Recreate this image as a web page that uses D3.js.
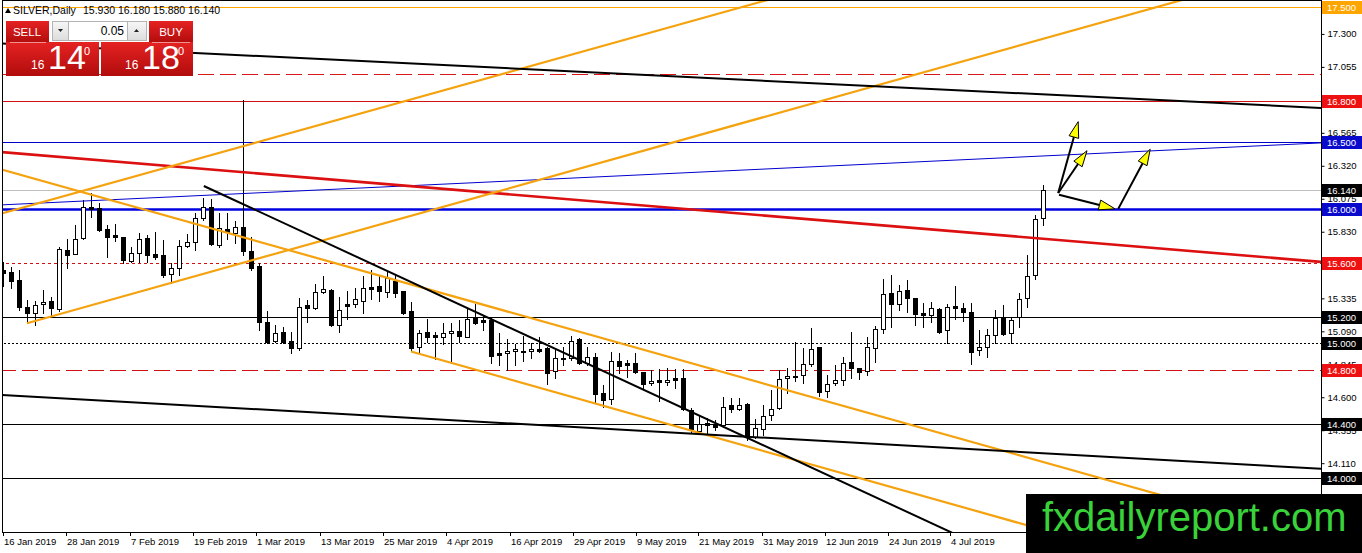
<!DOCTYPE html>
<html>
<head>
<meta charset="utf-8">
<script src="https://cdn.jsdelivr.net/npm/d3@7"></script>
<style>
  body { margin: 0; background: #fff; }
  svg { display: block; }
  text { font-family: "Liberation Sans", Arial, sans-serif; }
</style>
</head>
<body>
<div id="chart"></div>
<script>
// Daily OHLC, one entry per bar starting 16 Jan 2019
var opens = [15.546,15.531,15.472,15.271,15.227,15.294,15.316,15.256,15.695,15.665,
  15.784,16.014,16.007,15.851,15.806,15.791,15.613,15.672,15.784,15.665,
  15.658,15.516,15.561,15.724,15.754,15.932,16.014,15.732,15.851,15.821,
  15.866,15.687,15.576,15.160,15.019,15.085,15.019,14.967,15.286,15.264,
  15.383,15.398,15.138,15.294,15.294,15.316,15.420,15.427,15.383,15.464,
  15.390,15.242,14.974,15.085,15.063,15.048,15.078,15.093,15.048,15.197,
  15.175,15.175,14.930,14.930,14.944,14.944,14.944,14.959,14.967,14.796,
  14.892,14.892,15.033,14.855,14.900,14.632,14.588,14.870,14.855,14.855,
  14.788,14.707,14.729,14.714,14.744,14.744,14.506,14.350,14.410,14.395,
  14.395,14.543,14.514,14.551,14.305,14.365,14.469,14.521,14.744,14.759,
  14.766,14.848,14.974,14.647,14.707,14.729,14.863,14.818,14.796,14.967,
  15.108,15.375,15.294,15.398,15.338,15.227,15.212,15.256,15.100,15.279,
  15.264,15.234,14.952,14.974,15.063,15.197,15.078,15.197,15.338,15.509,
  15.930];
var highs = [15.605,15.568,15.546,15.323,15.316,15.398,15.346,15.717,15.776,15.880,
  16.066,16.118,16.044,15.880,15.888,15.791,15.717,15.821,15.806,15.828,
  15.769,15.598,15.769,15.814,15.970,16.081,16.074,15.970,15.970,15.910,
  16.809,15.791,15.598,15.242,15.138,15.123,15.085,15.338,15.323,15.442,
  15.502,15.405,15.346,15.390,15.412,15.502,15.546,15.502,15.531,15.509,
  15.390,15.308,15.100,15.182,15.085,15.152,15.152,15.175,15.264,15.294,
  15.212,15.190,15.078,15.033,14.996,15.056,15.004,15.048,14.974,14.952,
  14.974,15.056,15.041,14.974,14.930,14.692,14.937,14.930,14.878,14.930,
  14.788,14.803,14.811,14.818,14.811,14.811,14.521,14.461,14.447,14.432,
  14.603,14.595,14.595,14.558,14.439,14.543,14.655,14.803,14.818,15.011,
  14.967,15.115,14.974,14.766,14.840,14.900,15.085,14.818,15.048,15.130,
  15.479,15.509,15.435,15.472,15.338,15.301,15.308,15.264,15.294,15.427,
  15.301,15.301,15.100,15.108,15.249,15.286,15.197,15.375,15.658,15.955,
  16.180];
var lows = [15.427,15.412,15.249,15.152,15.138,15.227,15.197,15.242,15.561,15.665,
  15.776,15.940,15.836,15.643,15.762,15.598,15.605,15.605,15.605,15.628,
  15.494,15.450,15.509,15.717,15.695,15.918,15.732,15.717,15.776,15.747,
  15.658,15.546,15.100,15.004,15.011,15.004,14.930,14.952,15.160,15.256,
  15.375,15.130,15.085,15.182,15.271,15.227,15.331,15.316,15.346,15.346,
  15.219,14.952,14.937,15.011,14.885,14.996,14.855,15.011,15.048,15.145,
  15.100,14.855,14.840,14.803,14.840,14.870,14.892,14.937,14.699,14.744,
  14.840,14.878,14.848,14.840,14.558,14.528,14.551,14.781,14.751,14.781,
  14.670,14.692,14.573,14.692,14.670,14.506,14.343,14.335,14.335,14.357,
  14.380,14.491,14.506,14.283,14.298,14.320,14.432,14.514,14.632,14.722,
  14.707,14.833,14.610,14.603,14.692,14.692,14.744,14.736,14.766,14.863,
  15.078,15.123,15.249,15.234,15.138,15.123,15.160,15.078,15.004,15.182,
  15.167,14.848,14.915,14.900,15.004,15.063,15.004,15.123,15.271,15.479,
  15.880];
var closes = [15.524,15.464,15.271,15.227,15.286,15.308,15.264,15.702,15.658,15.776,
  16.014,15.999,15.843,15.791,15.791,15.620,15.672,15.776,15.658,15.643,
  15.509,15.561,15.724,15.754,15.932,16.014,15.739,15.858,15.828,15.866,
  15.687,15.561,15.160,15.011,15.078,15.011,14.967,15.271,15.264,15.383,
  15.405,15.138,15.249,15.279,15.331,15.412,15.405,15.390,15.487,15.375,
  15.227,14.967,15.078,15.048,15.048,15.078,15.093,15.056,15.182,15.152,
  15.160,14.907,14.915,14.944,14.959,14.937,14.959,14.944,14.781,14.892,
  14.885,15.019,14.855,14.900,14.625,14.580,14.870,14.833,14.840,14.788,
  14.699,14.722,14.714,14.729,14.729,14.514,14.365,14.402,14.395,14.380,
  14.528,14.514,14.543,14.305,14.372,14.462,14.514,14.736,14.759,14.751,
  14.848,14.959,14.640,14.699,14.729,14.855,14.818,14.788,14.974,15.108,
  15.368,15.294,15.390,15.338,15.219,15.212,15.264,15.085,15.271,15.264,
  15.234,14.937,14.974,15.063,15.190,15.071,15.175,15.331,15.502,15.925,
  16.140];
// bar colour as drawn (some near-doji bars)
var bearBars = [0,1,2,3,6,8,11,12,13,14,15,18,19,20,26,28,30,31,32,33,35,36,38,41,43,46,47,49,50,51,
  53,54,57,59,60,61,62,65,67,68,70,72,74,75,77,78,79,80,82,84,85,86,88,89,91,93,99,102,106,107,
  111,113,114,115,117,119,120,121,125];

// time labels sit at even spacing along the bar axis
var dateLabels = ["16 Jan 2019","28 Jan 2019","7 Feb 2019","19 Feb 2019","1 Mar 2019","13 Mar 2019",
  "25 Mar 2019","4 Apr 2019","16 Apr 2019","29 Apr 2019","9 May 2019","21 May 2019","31 May 2019",
  "12 Jun 2019","24 Jun 2019","4 Jul 2019"];
var dateBars = [0,7.875,15.875,23.75,31.625,39.625,47.5,55.375,63.375,71.25,79.125,86.875,94.875,
  102.75,110.625,118.375];

var priceTicks = [17.300,17.055,16.810,16.565,16.320,16.075,15.830,15.585,15.335,15.090,
  14.845,14.600,14.355,14.110,13.865];

// horizontal levels
var levelPrices = [17.5, 17.0, 16.8, 16.5, 16.14, 16.0, 15.6, 15.2, 15.0, 14.8, 14.4, 14.0];

// trend lines: [bar1, price1, bar2, price2]
var blackLines = [[-0.375,17.229,164.75,16.750],[-0.375,14.618,164.75,14.068],[25.1,16.170,125,13.418]];
var orangeLines = [[-0.375,15.962,99.6,17.619],[-0.375,16.296,164.75,13.539],[51,14.940,137.1,13.496],[3,15.150,149.6,17.589]];
var redTrend = [-0.375,16.423,164.75,15.606];
var blueTrend = [-0.375,16.029,164.75,16.490];
// arrows: [fromBar, fromPrice, toBar, toPrice]
var arrows = [[131.9,16.118,134.4,16.648],[131.9,16.118,135.5,16.432],[132,16.105,139,16.000],[139.4,16.000,143.4,16.443]];

var W = 1362, H = 553, plotR = 1321, plotB = 532;

var svg = d3.select("#chart").append("svg")
  .attr("width", W).attr("height", H);

var defs = svg.append("defs");
defs.append("clipPath").attr("id", "plotclip")
  .append("rect").attr("x", 2).attr("y", 0).attr("width", plotR - 2).attr("height", plotB);
var grad = defs.append("linearGradient").attr("id", "redg").attr("x1", 0).attr("y1", 0).attr("x2", 0).attr("y2", 1);
grad.append("stop").attr("offset", "0%").attr("stop-color", "#e52222");
grad.append("stop").attr("offset", "100%").attr("stop-color", "#b10c0c");
var grayg = defs.append("linearGradient").attr("id", "grayg").attr("x1", 0).attr("y1", 0).attr("x2", 0).attr("y2", 1);
grayg.append("stop").attr("offset", "0%").attr("stop-color", "#f7f7f7");
grayg.append("stop").attr("offset", "100%").attr("stop-color", "#dcdcdc");

// 8 px per bar
var x = d3.scaleLinear().domain([0, 160]).range([3, 3 + 160 * 8]);
var y = d3.scaleLinear().domain([14.0, 17.5]).range([478, 7]);

var plot = svg.append("g").attr("clip-path", "url(#plotclip)");

// horizontal level lines
var levelStyle = {
  "17.5": {c: "#ffa500", w: 1, d: null, bg: "#ffa500"},
  "17": {c: "#d81818", w: 1, d: "16,6", bg: null},
  "16.8": {c: "#d01010", w: 1, d: null, bg: "#ee1111"},
  "16.5": {c: "#0000cd", w: 1, d: null, bg: "#0a0acd"},
  "16.14": {c: "#c0c0c0", w: 1, d: null, bg: "#000"},
  "16": {c: "#0000e0", w: 2.5, d: null, bg: "#0a0acd"},
  "15.6": {c: "#d01010", w: 1, d: "3,3", bg: "#ee1111"},
  "15.2": {c: "#000", w: 1, d: null, bg: "#000"},
  "15": {c: "#000", w: 1, d: "2,2", bg: "#000"},
  "14.8": {c: "#d01010", w: 1, d: "16,6", bg: "#ee1111"},
  "14.4": {c: "#000", w: 1, d: null, bg: "#000"},
  "14": {c: "#000", w: 1, d: null, bg: "#000"}
};

plot.selectAll("line.level").data(levelPrices).enter().append("line")
  .attr("x1", 0).attr("x2", plotR)
  .attr("y1", function(d) { return Math.round(y(d)) + 0.5; })
  .attr("y2", function(d) { return Math.round(y(d)) + 0.5; })
  .attr("stroke", function(d) { return levelStyle[String(d)].c; })
  .attr("stroke-width", function(d) { return levelStyle[String(d)].w; })
  .attr("stroke-dasharray", function(d) { return levelStyle[String(d)].d; });

// candles
var bars = d3.range(opens.length);
var isBear = function(i) { return bearBars.indexOf(i) >= 0; };

plot.selectAll("line.wick").data(bars).enter().append("line")
  .attr("x1", function(i) { return Math.round(x(i)) + 0.5; })
  .attr("x2", function(i) { return Math.round(x(i)) + 0.5; })
  .attr("y1", function(i) { return Math.round(y(highs[i])); })
  .attr("y2", function(i) { return Math.round(y(lows[i])) + 1; })
  .attr("stroke", "#000").attr("stroke-width", 1);

plot.selectAll("rect.body").data(bars).enter().append("rect")
  .attr("x", function(i) { return isBear(i) ? Math.round(x(i)) - 2 : Math.round(x(i)) - 1.5; })
  .attr("width", function(i) { return isBear(i) ? 5 : 4; })
  .attr("y", function(i) {
    var t = Math.round(y(Math.max(opens[i], closes[i])));
    return isBear(i) ? t : t + 0.5;
  })
  .attr("height", function(i) {
    var h = Math.round(y(Math.min(opens[i], closes[i]))) - Math.round(y(Math.max(opens[i], closes[i])));
    return Math.max(isBear(i) ? 1 : 0, isBear(i) ? h + 1 : h);
  })
  .attr("fill", function(i) { return isBear(i) ? "#000" : "#fff"; })
  .attr("stroke", function(i) { return isBear(i) ? "none" : "#000"; })
  .attr("stroke-width", 1);

// trend lines
var seg = function(g, d, color, w) {
  g.append("line")
    .attr("x1", x(d[0])).attr("y1", y(d[1]))
    .attr("x2", x(d[2])).attr("y2", y(d[3]))
    .attr("stroke", color).attr("stroke-width", w);
};
seg(plot, blueTrend, "#0000cd", 1);
seg(plot, redTrend, "#dc1010", 2.6);
orangeLines.forEach(function(d) { seg(plot, d, "#f5a20f", 2.2); });
blackLines.forEach(function(d) { seg(plot, d, "#000", 2); });

// arrows
arrows.forEach(function(a) {
  var x1 = x(a[0]), y1 = y(a[1]), x2 = x(a[2]), y2 = y(a[3]);
  var dx = x2 - x1, dy = y2 - y1, len = Math.sqrt(dx * dx + dy * dy);
  var ux = dx / len, uy = dy / len, L = 16, hw = 5;
  var bx = x2 - ux * L, by = y2 - uy * L;
  plot.append("line").attr("x1", x1).attr("y1", y1).attr("x2", bx).attr("y2", by)
    .attr("stroke", "#000").attr("stroke-width", 2);
  plot.append("polygon")
    .attr("points", [[x2, y2], [bx - uy * hw, by + ux * hw], [bx + uy * hw, by - ux * hw]].map(function(p) { return p.join(","); }).join(" "))
    .attr("fill", "#ffff00").attr("stroke", "#000").attr("stroke-width", 1);
});

// frame
svg.append("rect").attr("x", 2.5).attr("y", 0.5).attr("width", plotR - 2).attr("height", plotB)
  .attr("fill", "none").attr("stroke", "#000").attr("stroke-width", 1);

// price axis
var yAxis = svg.append("g").attr("transform", "translate(" + (plotR + 0.5) + ",0)")
  .call(d3.axisRight(y).tickValues(priceTicks).tickSize(3).tickFormat(d3.format(".3f")));
yAxis.select(".domain").remove();
yAxis.selectAll("text").attr("font-size", "9.5px").attr("fill", "#000")
  .attr("font-family", "Liberation Sans, Arial, sans-serif");
yAxis.selectAll("line").attr("stroke", "#000");

// level price labels
var labeled = levelPrices.filter(function(d) { return levelStyle[String(d)].bg; });
svg.selectAll("rect.lbl").data(labeled).enter().append("rect")
  .attr("x", plotR + 1).attr("width", W - plotR - 1)
  .attr("y", function(d) { return Math.round(y(d)) - 6; }).attr("height", 13)
  .attr("fill", function(d) { return levelStyle[String(d)].bg; });
svg.selectAll("text.lbl").data(labeled).enter().append("text")
  .attr("x", plotR + 6).attr("y", function(d) { return Math.round(y(d)) + 4; })
  .attr("font-size", "9.5px").attr("fill", "#fff")
  .text(function(d) { return d3.format(".3f")(d); });

// date axis
var dates = svg.append("g");
dates.selectAll("line").data(dateBars).enter().append("line")
  .attr("x1", function(i) { return Math.round(x(i)) + 0.5; })
  .attr("x2", function(i) { return Math.round(x(i)) + 0.5; })
  .attr("y1", plotB).attr("y2", plotB + 4).attr("stroke", "#000");
dates.selectAll("text").data(dateBars).enter().append("text")
  .attr("x", function(i) { return Math.round(x(i)) + 1; })
  .attr("y", 545).attr("font-size", "9.5px").attr("fill", "#000")
  .text(function(i, k) { return dateLabels[k]; });

// header
svg.append("path").attr("d", "M5,13 L8,8 L11,13 Z").attr("fill", "#000");
svg.append("text").attr("x", 13).attr("y", 14).attr("font-size", "10.5px").attr("fill", "#000")
  .text("SILVER,Daily");
svg.append("text").attr("x", 83).attr("y", 14).attr("font-size", "10.5px").attr("fill", "#000")
  .text("15.930 16.180 15.880 16.140");

// one-click trading panel
var panel = svg.append("g");
panel.append("rect").attr("x", 6).attr("y", 21).attr("width", 43).attr("height", 22).attr("fill", "url(#redg)");
panel.append("rect").attr("x", 149).attr("y", 21).attr("width", 44).attr("height", 22).attr("fill", "url(#redg)");
panel.append("rect").attr("x", 6).attr("y", 42).attr("width", 93).attr("height", 34).attr("fill", "url(#redg)");
panel.append("rect").attr("x", 101).attr("y", 42).attr("width", 92).attr("height", 34).attr("fill", "url(#redg)");
panel.append("line").attr("x1", 10).attr("x2", 46).attr("y1", 42.5).attr("y2", 42.5).attr("stroke", "#f09090");
panel.append("line").attr("x1", 152).attr("x2", 190).attr("y1", 42.5).attr("y2", 42.5).attr("stroke", "#f09090");
panel.append("rect").attr("x", 52.5).attr("y", 21.5).attr("width", 16).attr("height", 19).attr("fill", "url(#grayg)").attr("stroke", "#b4b4b4");
panel.append("rect").attr("x", 68.5).attr("y", 21.5).attr("width", 59).attr("height", 19).attr("fill", "#fff").attr("stroke", "#b4b4b4");
panel.append("rect").attr("x", 127.5).attr("y", 21.5).attr("width", 19).attr("height", 19).attr("fill", "url(#grayg)").attr("stroke", "#b4b4b4");
panel.append("path").attr("d", "M58,29 L63,29 L60.5,32 Z").attr("fill", "#222");
panel.append("path").attr("d", "M134,32 L139,32 L136.5,29 Z").attr("fill", "#222");
panel.append("text").attr("x", 124).attr("y", 35).attr("text-anchor", "end").attr("font-size", "12px").attr("fill", "#000").text("0.05");
panel.append("text").attr("x", 27).attr("y", 36).attr("text-anchor", "middle").attr("font-size", "11.5px").attr("fill", "#fff").text("SELL");
panel.append("text").attr("x", 171).attr("y", 36).attr("text-anchor", "middle").attr("font-size", "11.5px").attr("fill", "#fff").text("BUY");

var quote = function(x0, big) {
  panel.append("text").attr("x", x0).attr("y", 69).attr("font-size", "12px").attr("fill", "#fff").text("16");
  panel.append("text").attr("x", x0 + 17).attr("y", 69).attr("font-size", "34px")
    .attr("font-family", "Liberation Sans Narrow, Arial Narrow, sans-serif").attr("fill", "#fff").text(big);
  panel.append("text").attr("x", x0 + 53).attr("y", 55).attr("font-size", "11px").attr("fill", "#fff").text("0");
};
quote(31, "14");
quote(125, "18");

// watermark
svg.append("rect").attr("x", 1026).attr("y", 494).attr("width", W - 1026).attr("height", H - 494).attr("fill", "#000");
svg.append("text").attr("x", 1042).attr("y", 531).attr("font-size", "40px").attr("fill", "#3ad23a")
  .text("fxdailyreport.com");
</script>
</body>
</html>
